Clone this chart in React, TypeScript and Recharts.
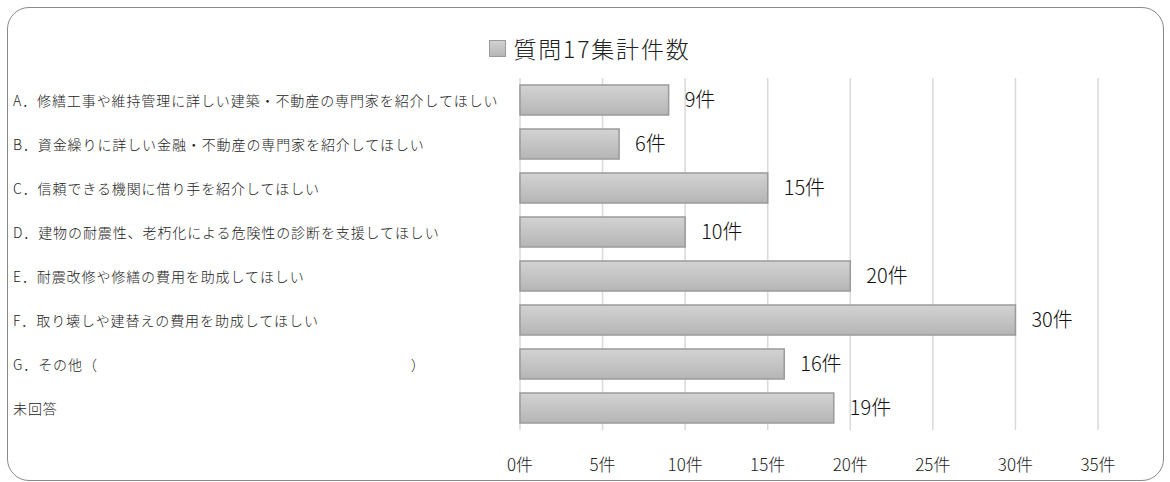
import { BarChart, Bar, XAxis, YAxis, CartesianGrid, LabelList, Legend } from "recharts";

const categories = [
  "A．修繕工事や維持管理に詳しい建築・不動産の専門家を紹介してほしい",
  "B．資金繰りに詳しい金融・不動産の専門家を紹介してほしい",
  "C．信頼できる機関に借り手を紹介してほしい",
  "D．建物の耐震性、老朽化による危険性の診断を支援してほしい",
  "E．耐震改修や修繕の費用を助成してほしい",
  "F．取り壊しや建替えの費用を助成してほしい",
  "G．その他（" + "\u3000".repeat(21) + "）",
  "未回答",
];
const counts = [9, 6, 15, 10, 20, 30, 16, 19];
const xTicks = [0, 5, 10, 15, 20, 25, 30, 35];
const seriesName = "質問17集計件数";

const data = categories.map((name, i) => ({ name, value: counts[i] }));

const FONT = '"Noto Sans CJK JP", "Noto Sans", sans-serif';

const CategoryTick = ({ y, payload }: any) => (
  <text
    x={13}
    y={y}
    dominantBaseline="central"
    fontSize={14}
    letterSpacing={0.9}
    fontWeight={300}
    fill="#222"
    fontFamily={FONT}
    style={{ whiteSpace: "pre" }}
  >
    {payload.value}
  </text>
);

const ValueTick = ({ x, y, payload }: any) => (
  <text
    x={x}
    y={y + 33}
    textAnchor="middle"
    dominantBaseline="central"
    fontSize={17}
    fontWeight={300}
    fill="#222"
    fontFamily={FONT}
  >
    {`${payload.value}件`}
  </text>
);

const LegendBox = () => (
  <div
    style={{
      display: "flex",
      alignItems: "center",
      justifyContent: "center",
      fontFamily: FONT,
      fontSize: 23,
      fontWeight: 300,
      letterSpacing: 1.8,
      color: "#222",
      marginLeft: 10,
    }}
  >
    <span
      style={{
        display: "inline-block",
        width: 15,
        height: 15,
        background: "linear-gradient(#d2d2d2, #b6b6b6)",
        border: "1px solid #9a9a9a",
        marginRight: 7,
      }}
    />
    <span>{seriesName}</span>
  </div>
);

export default function App() {
  return (
    <div style={{ position: "absolute", left: 0, top: 0, width: 1170, height: 482, background: "#fff" }}>
      <div
        style={{
          position: "absolute",
          left: 7,
          top: 7,
          width: 1155,
          height: 472,
          border: "1.5px solid #8a8a8a",
          borderRadius: 22,
        }}
      />
      <BarChart
        width={1170}
        height={482}
        data={data}
        layout="vertical"
        margin={{ top: 78, right: 72, bottom: 0, left: 0 }}
        barSize={30}
      >
        <defs>
          <linearGradient id="barFill" x1="0" y1="0" x2="0" y2="1">
            <stop offset="0%" stopColor="#d3d3d3" />
            <stop offset="100%" stopColor="#b5b5b5" />
          </linearGradient>
        </defs>
        <CartesianGrid horizontal={false} stroke="#d9d9d9" strokeWidth={1.5} />
        <XAxis
          type="number"
          domain={[0, 35]}
          ticks={xTicks}
          axisLine={false}
          tickLine={false}
          tickSize={0}
          tickMargin={0}
          height={52}
          tick={<ValueTick />}
          interval={0}
        />
        <YAxis
          type="category"
          dataKey="name"
          width={520}
          axisLine={false}
          tickLine={false}
          tick={<CategoryTick />}
          interval={0}
        />
        <Legend
          layout="horizontal"
          verticalAlign="middle"
          align="center"
          wrapperStyle={{ top: 31, left: 0, width: 1170 }}
          content={<LegendBox />}
        />
        <Bar
          dataKey="value"
          name={seriesName}
          fill="url(#barFill)"
          stroke="#9a9a9a"
          strokeWidth={1.5}
          isAnimationActive={false}
        >
          <LabelList
            dataKey="value"
            position="right"
            offset={16}
            formatter={(v: any) => `${v}件`}
            fontSize={20}
            fontWeight={300}
            fill="#111"
            fontFamily={FONT}
          />
        </Bar>
      </BarChart>
    </div>
  );
}
